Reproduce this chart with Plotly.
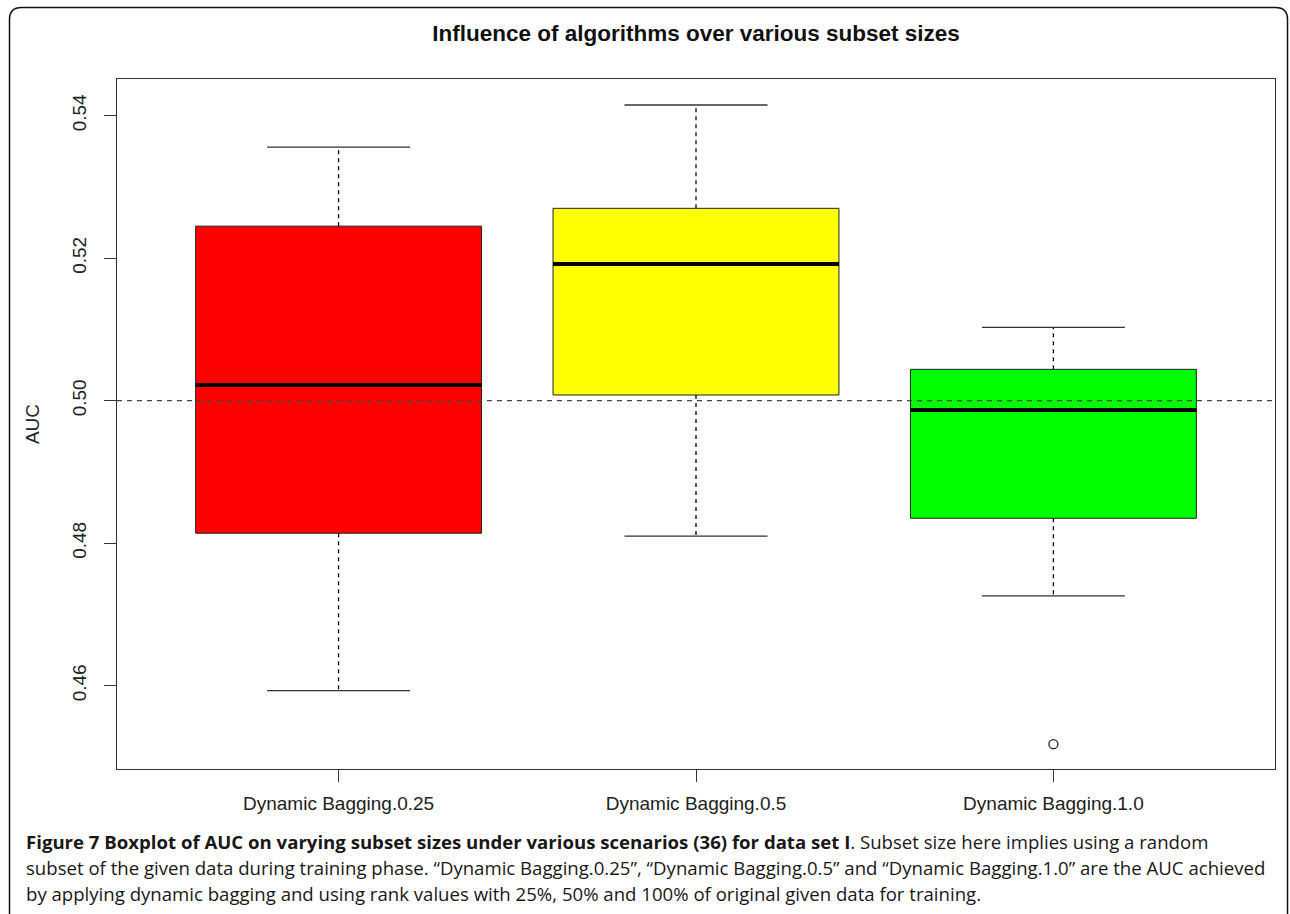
import plotly.graph_objects as go

# ---- data ----
categories = ["Dynamic Bagging.0.25", "Dynamic Bagging.0.5", "Dynamic Bagging.1.0"]
lower_whisker = [0.4593, 0.4810, 0.4726]
q1_vals = [0.4814, 0.5008, 0.4835]
median_vals = [0.5022, 0.5192, 0.4987]
q3_vals = [0.5245, 0.5270, 0.5044]
upper_whisker = [0.5356, 0.5415, 0.5103]
outlier_cat = [2]          # index into categories
outlier_vals = [0.4518]
box_colors = ["#FF0000", "#FFFF00", "#00FF00"]
ref_line = 0.50
y_ticks = [0.46, 0.48, 0.50, 0.52, 0.54]

BOX_W = 0.8
CAP_W = 0.4
positions = [i + 1 for i in range(len(categories))]

fig = go.Figure()

for i, pos in enumerate(positions):
    fig.add_trace(go.Box(
        x=[pos], q1=[q1_vals[i]], median=[median_vals[i]], q3=[q3_vals[i]],
        lowerfence=[q1_vals[i]], upperfence=[q3_vals[i]],
        width=BOX_W, whiskerwidth=0, fillcolor=box_colors[i],
        line=dict(color="#222222", width=1), boxpoints=False,
        showlegend=False, hoverinfo="skip"))

# dashed whiskers, caps, medians
wx, wy, cx, cy, mx, my = [], [], [], [], [], []
for i, pos in enumerate(positions):
    wx += [pos, pos, None, pos, pos, None]
    wy += [q3_vals[i], upper_whisker[i], None, q1_vals[i], lower_whisker[i], None]
    cx += [pos - CAP_W / 2, pos + CAP_W / 2, None, pos - CAP_W / 2, pos + CAP_W / 2, None]
    cy += [upper_whisker[i], upper_whisker[i], None, lower_whisker[i], lower_whisker[i], None]
    mx += [pos - BOX_W / 2, pos + BOX_W / 2, None]
    my += [median_vals[i], median_vals[i], None]

fig.add_trace(go.Scatter(x=wx, y=wy, mode="lines", showlegend=False, hoverinfo="skip",
                         line=dict(color="black", width=1.3, dash="4px,4px")))
fig.add_trace(go.Scatter(x=cx, y=cy, mode="lines", showlegend=False, hoverinfo="skip",
                         line=dict(color="#333333", width=1.3)))
fig.add_trace(go.Scatter(x=mx, y=my, mode="lines", showlegend=False, hoverinfo="skip",
                         line=dict(color="black", width=4)))
fig.add_trace(go.Scatter(x=[positions[c] for c in outlier_cat], y=outlier_vals, mode="markers",
                         showlegend=False, hoverinfo="skip",
                         marker=dict(symbol="circle-open", size=9, color="#222222",
                                     line=dict(width=1.3))))
fig.add_trace(go.Scatter(x=[0.38, 3.62], y=[ref_line, ref_line], mode="lines",
                         showlegend=False, hoverinfo="skip",
                         line=dict(color="#444444", width=1.2, dash="5px,5px")))

# outer rounded frame (paper coords)
L, R, T, B = 117, 1275, 79, 769
W, H = R - L, B - T
def px(x): return (x - L) / W
def py(y): return (B - y) / H
x0, x1, y0, y1, r = 9.5, 1287.5, 7.5, 916, 12
path = (f"M {px(x0)},{py(y1)} L {px(x0)},{py(y0 + r)} Q {px(x0)},{py(y0)} {px(x0 + r)},{py(y0)} "
        f"L {px(x1 - r)},{py(y0)} Q {px(x1)},{py(y0)} {px(x1)},{py(y0 + r)} L {px(x1)},{py(y1)}")
fig.add_shape(type="path", path=path, xref="paper", yref="paper",
              line=dict(color="#111111", width=1.5))

cap_font = dict(family="Open Sans, Noto Sans, sans-serif", size=18.6, color="#1A1718")
cap_lines = [
    "<b>Figure 7 Boxplot of AUC on varying subset sizes under various scenarios (36) for data set I</b>. "
    "Subset size here implies using a random",
    "subset of the given data during training phase. “Dynamic Bagging.0.25”, “Dynamic Bagging.0.5” and "
    "“Dynamic Bagging.1.0” are the AUC achieved",
    "by applying dynamic bagging and using rank values with 25%, 50% and 100% of original given data for training.",
]
cap_y = [841, 867, 893]
for t, yy in zip(cap_lines, cap_y):
    fig.add_annotation(text=t, xref="paper", yref="paper", x=px(24), y=py(yy),
                       xanchor="left", yanchor="middle", showarrow=False, font=cap_font)

axis_font = dict(family="Liberation Sans, Arial, sans-serif", size=19, color="#222222")
fig.update_layout(
    width=1290, height=914,
    margin=dict(l=L, r=1290 - R, t=T, b=914 - B),
    paper_bgcolor="white", plot_bgcolor="white",
    title=dict(text="<b>Influence of algorithms over various subset sizes</b>",
               x=696 / 1290, xanchor="center",
               y=1 - 33 / 914, yanchor="middle", yref="container",
               font=dict(family="Liberation Sans, Arial, sans-serif", size=22.5, color="#111111")),
    xaxis=dict(range=[0.38, 3.62], tickvals=positions, ticktext=categories,
               showgrid=False, zeroline=False, showline=True, mirror=True,
               linecolor="#333333", linewidth=1, ticks="outside", ticklen=12,
               tickcolor="#333333", tickfont=axis_font, ticklabelstandoff=5),
    yaxis=dict(range=[0.44831, 0.54515], tickvals=y_ticks,
               ticktext=[f"{v:.2f}" for v in y_ticks], tickangle=-90,
               showgrid=False, zeroline=False, showline=True, mirror=True,
               linecolor="#333333", linewidth=1, ticks="outside", ticklen=12,
               tickcolor="#333333", tickfont=axis_font, ticklabelstandoff=10,
               title=dict(text="AUC", font=axis_font, standoff=24)),
)

fig.write_html("out.html", config={"displayModeBar": False},
               post_script="document.body.style.margin='0';document.body.style.overflow='hidden';")
